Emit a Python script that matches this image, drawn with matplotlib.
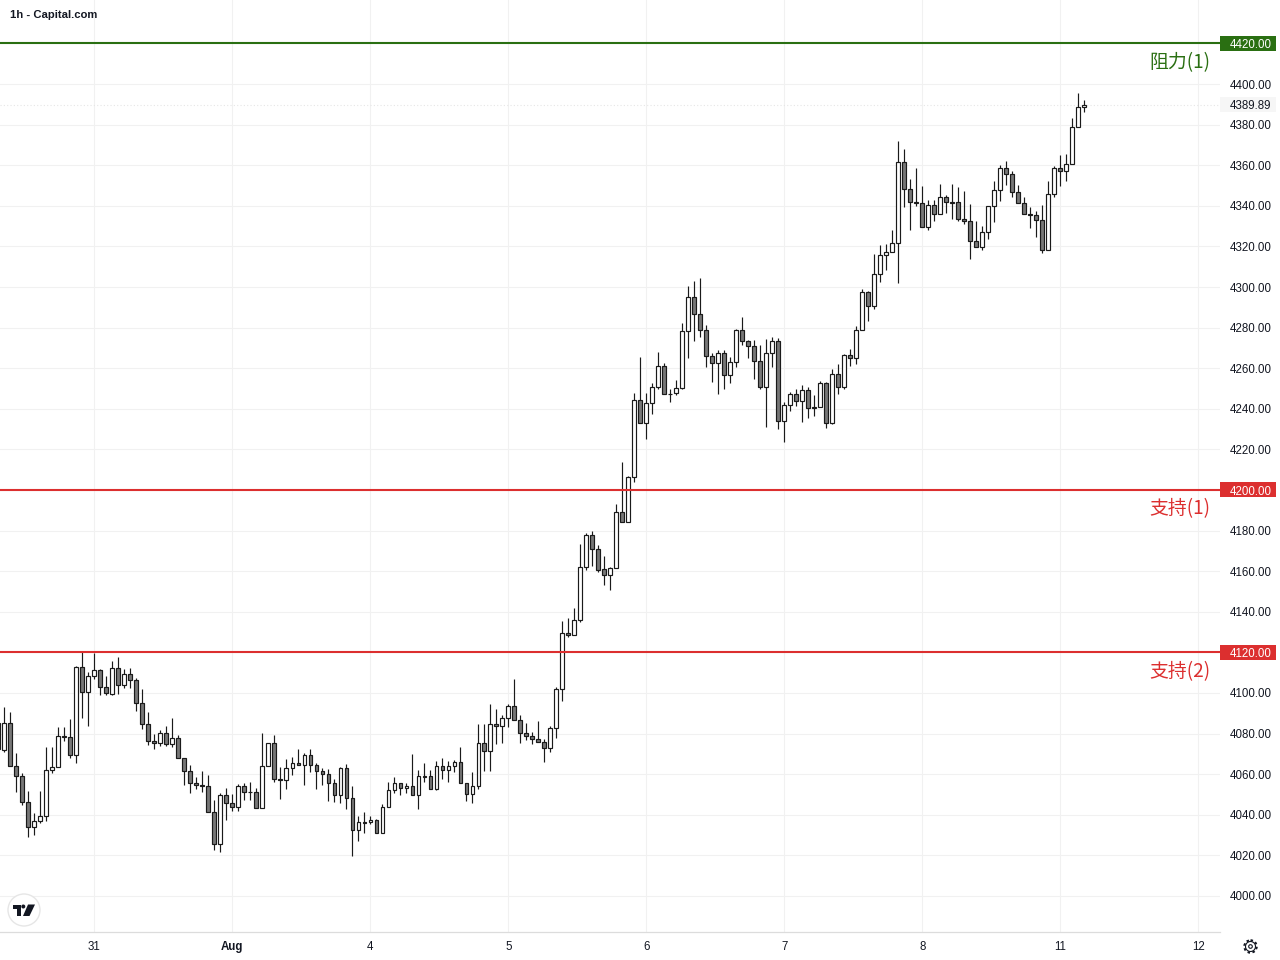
# -*- coding: utf-8 -*-
"""
1h candles with support and resistance levels
"""

import numpy as np
import matplotlib
matplotlib.use('Agg')
import matplotlib.pyplot as plt
from matplotlib.patches import Circle, Polygon, Rectangle
from matplotlib.transforms import blended_transform_factory

FIRST_BAR = -16

opens = [
    4085.0, 4072.1, 4085.0, 4063.9, 4058.9, 4046.1, 4033.8, 4036.8, 4039.2, 4061.9, 4063.4, 4078.6, 4078.2, 4069.3, 4112.6, 4100.3,
    4108.2, 4111.2, 4102.8, 4099.7, 4112.1, 4103.8, 4109.2, 4106.2, 4094.9, 4084.6, 4076.2, 4075.2, 4080.1, 4074.7, 4077.7, 4067.8,
    4061.5, 4055.5, 4054.6, 4054.1, 4041.3, 4025.5, 4049.6, 4045.7, 4043.7, 4054.1, 4051.1, 4051.1, 4043.2, 4063.9, 4075.3, 4057.5,
    4057.0, 4062.9, 4065.4, 4064.4, 4069.3, 4064.4, 4061.5, 4060.0, 4055.5, 4049.6, 4062.9, 4048.2, 4032.4, 4036.3, 4036.3,
    4037.3, 4030.9, 4043.7, 4052.1, 4055.5, 4053.1, 4054.0, 4049.6, 4059.0, 4059.0, 4052.6, 4063.9, 4061.9, 4063.9, 4065.9, 4055.5,
    4050.1, 4054.0, 4075.2, 4071.3, 4084.6, 4083.6, 4087.5, 4093.4, 4086.5, 4080.1, 4078.7, 4077.2, 4075.7, 4072.8, 4082.6, 4101.8, 4129.4,
    4128.4, 4135.8, 4161.9, 4177.7, 4170.8, 4160.9, 4158.0, 4161.4, 4189.0, 4184.1, 4206.2, 4244.2, 4232.8, 4242.7, 4250.6,
    4260.9, 4247.5, 4247.6, 4250.1, 4278.2, 4294.9, 4286.6, 4278.7, 4265.9, 4262.4, 4267.4, 4256.5, 4262.9, 4278.7, 4273.3, 4270.8,
    4263.4, 4250.6, 4267.4, 4273.3, 4233.9, 4241.7, 4247.2, 4243.7, 4249.1, 4240.7, 4240.7, 4252.6, 4232.9,
    4256.9, 4250.5, 4266.3, 4264.8, 4278.6, 4297.3, 4290.4, 4306.2, 4316.0, 4317.0, 4321.5, 4361.4, 4348.1, 4341.7, 4341.2, 4329.4,
    4340.2, 4335.8, 4344.1,
    4341.7, 4341.7, 4333.3, 4332.3, 4322.5, 4319.5, 4326.9, 4339.7, 4347.6, 4358.5, 4355.5, 4346.6, 4341.2, 4335.8, 4335.3, 4332.8,
    4318.1, 4345.6, 4358.5, 4357.0, 4360.4, 4378.6, 4388.5,
]
highs = [
    4091.0, 4093.3, 4090.6, 4070.4, 4060.4, 4051.7, 4040.9, 4051.7, 4073.4, 4073.4, 4083.1, 4083.1, 4087.0, 4113.3, 4120.7, 4110.2,
    4119.9, 4111.8, 4108.4, 4115.8, 4117.7, 4111.8, 4112.3, 4107.4, 4101.8, 4090.5, 4079.8, 4081.8, 4083.7, 4087.7, 4079.3, 4067.8,
    4064.6, 4058.5, 4061.6, 4059.5, 4047.2, 4050.6, 4053.1, 4050.1, 4055.1, 4055.5, 4056.0, 4053.1, 4080.3, 4075.3, 4079.4, 4063.4,
    4067.4, 4068.5, 4072.3, 4070.3, 4072.3, 4065.4, 4062.9, 4062.4, 4057.5, 4063.4, 4064.9, 4054.1, 4039.3, 4041.3, 4039.3,
    4037.8, 4045.2, 4056.0, 4058.5, 4055.5, 4055.5, 4069.8, 4062.1, 4065.4, 4062.1, 4066.4, 4067.8, 4066.4, 4066.8, 4073.4, 4055.5,
    4060.9, 4084.6, 4084.6, 4094.4, 4092.0, 4089.0, 4094.4, 4106.7, 4089.0, 4085.1, 4080.6, 4086.1, 4077.2, 4083.6, 4102.8, 4135.5, 4136.8,
    4141.9, 4173.4, 4178.8, 4179.8, 4172.9, 4167.5, 4161.9, 4193.1, 4213.8, 4206.9, 4247.8, 4265.5, 4247.8, 4252.7, 4267.8,
    4262.4, 4249.6, 4254.0, 4282.1, 4300.5, 4303.0, 4304.3, 4281.1, 4267.4, 4268.8, 4268.8, 4265.4, 4279.2, 4285.1, 4273.8, 4273.8,
    4271.3, 4274.2, 4275.2, 4274.7, 4243.2, 4248.1, 4249.6, 4251.6, 4250.6, 4246.7, 4253.6, 4253.1, 4259.5,
    4262.0, 4266.8, 4269.3, 4280.6, 4298.8, 4297.8, 4316.5, 4320.5, 4321.0, 4327.9, 4371.9, 4367.8, 4353.0, 4358.6, 4349.7, 4343.1,
    4343.1, 4350.5, 4345.1,
    4350.6, 4349.1, 4347.1, 4340.7, 4332.5, 4329.9, 4339.7, 4352.0, 4359.9, 4361.9, 4357.0, 4350.1, 4344.2, 4339.2, 4337.3, 4340.2,
    4352.0, 4359.4, 4364.9, 4365.3, 4383.1, 4395.4, 4392.0,
]
lows = [
    4068.0, 4071.1, 4063.9, 4051.4, 4045.0, 4029.2, 4030.2, 4036.1, 4037.1, 4060.7, 4063.4, 4076.5, 4068.1, 4065.7, 4087.8, 4083.9,
    4107.0, 4099.2, 4099.2, 4099.2, 4099.7, 4102.6, 4102.6, 4091.3, 4082.4, 4074.5, 4072.6, 4074.0, 4074.0, 4073.6, 4067.8, 4054.8,
    4050.9, 4052.9, 4051.4, 4041.3, 4022.9, 4021.9, 4037.3, 4042.1, 4042.1, 4047.5, 4047.5, 4043.2, 4043.2, 4063.9, 4056.4, 4048.0,
    4052.9, 4059.8, 4064.4, 4054.9, 4061.3, 4052.9, 4054.7, 4047.0, 4046.5, 4046.0, 4043.1, 4019.9, 4027.3, 4031.2, 4035.4,
    4030.9, 4030.9, 4043.7, 4050.9, 4049.9, 4050.9, 4049.6, 4043.0, 4056.3, 4052.6, 4052.1, 4057.8, 4056.3, 4061.3, 4055.5, 4047.0,
    4046.0, 4052.9, 4061.8, 4061.8, 4075.1, 4075.6, 4083.4, 4086.5, 4075.6, 4077.0, 4075.1, 4075.7, 4066.2, 4071.1, 4078.0, 4096.2, 4127.8,
    4128.4, 4135.2, 4160.8, 4162.6, 4159.8, 4153.2, 4150.8, 4161.4, 4184.1, 4184.1, 4204.1, 4232.8, 4225.3, 4237.3, 4249.9,
    4247.2, 4243.5, 4246.7, 4249.6, 4265.2, 4273.6, 4275.6, 4260.8, 4253.4, 4247.5, 4249.9, 4252.9, 4260.8, 4271.6, 4265.2, 4254.9,
    4249.6, 4231.2, 4260.8, 4229.9, 4223.8, 4239.1, 4241.2, 4233.7, 4235.3, 4236.6, 4240.7, 4230.4, 4232.4,
    4247.4, 4249.9, 4261.2, 4262.2, 4278.6, 4283.4, 4289.3, 4302.6, 4308.5, 4317.0, 4302.1, 4339.5, 4328.2, 4340.0, 4329.4, 4328.2,
    4332.6, 4335.8, 4336.6,
    4333.7, 4332.7, 4331.2, 4314.0, 4319.5, 4318.4, 4323.8, 4332.2, 4342.5, 4350.4, 4344.5, 4341.2, 4335.8, 4329.2, 4324.8, 4316.9,
    4318.1, 4344.2, 4349.9, 4352.4, 4360.4, 4378.6, 4386.4,
]
closes = [
    4072.2, 4085.0, 4063.9, 4058.9, 4046.1, 4033.8, 4036.8, 4039.2, 4061.9, 4063.4, 4078.6, 4078.2, 4069.3, 4112.6, 4100.3, 4108.2,
    4111.2, 4102.8, 4099.8, 4112.1, 4103.8, 4109.2, 4106.2, 4094.9, 4084.6, 4076.2, 4075.2, 4080.1, 4074.7, 4077.7, 4067.8, 4061.4,
    4055.5, 4054.6, 4054.1, 4041.3, 4025.5, 4049.6, 4045.7, 4043.7, 4054.1, 4051.1, 4051.0, 4043.2, 4063.9, 4075.3, 4057.5, 4057.0,
    4062.9, 4065.4, 4064.4, 4069.3, 4064.4, 4061.5, 4060.0, 4055.5, 4049.6, 4062.9, 4048.2, 4032.4, 4036.3, 4036.2, 4037.3,
    4030.9, 4043.7, 4052.1, 4055.5, 4053.1, 4054.0, 4049.6, 4059.0, 4058.8, 4052.6, 4063.9, 4061.9, 4063.9, 4065.9, 4055.5, 4050.1,
    4054.0, 4075.2, 4071.3, 4084.6, 4083.6, 4087.5, 4093.4, 4086.5, 4080.1, 4078.7, 4077.2, 4075.7, 4072.8, 4082.6, 4101.8, 4129.4, 4128.4,
    4135.8, 4161.9, 4177.7, 4170.8, 4160.8, 4158.0, 4161.4, 4189.0, 4184.1, 4206.2, 4244.2, 4232.8, 4242.7, 4250.6, 4260.9,
    4247.2, 4247.2, 4250.1, 4278.2, 4294.9, 4286.6, 4278.7, 4265.9, 4262.4, 4267.4, 4256.5, 4262.9, 4278.7, 4273.3, 4270.8, 4263.4,
    4250.6, 4267.4, 4273.3, 4233.9, 4241.7, 4247.2, 4243.7, 4249.1, 4240.3, 4240.3, 4252.6, 4232.9, 4257.0,
    4250.5, 4266.3, 4264.8, 4278.6, 4297.3, 4290.4, 4306.2, 4316.0, 4317.0, 4321.5, 4361.4, 4348.1, 4341.7, 4341.2, 4329.4, 4340.2,
    4335.8, 4344.1, 4341.7,
    4341.5, 4333.3, 4332.3, 4322.5, 4319.5, 4326.9, 4339.7, 4347.6, 4358.5, 4355.5, 4346.6, 4341.2, 4335.8, 4335.3, 4332.8, 4318.1,
    4345.6, 4358.5, 4357.0, 4360.4, 4378.6, 4388.5, 4389.89,
]

# session starts, 23 bars apart
day_ticks = [0, 23, 46, 69, 92, 115, 138, 161, 184]
day_labels = ['31', 'Aug', '4', '5', '6', '7', '8', '11', '12']
price_ticks = list(range(4000, 4420, 20))

levels = [4420, 4200, 4120]
level_names = ['阻力(1)', '支持(1)', '支持(2)']
level_colors = ['#2a6f12', '#dc2f2f', '#dc2f2f']
last_price = closes[-1]

TEXT = '#131722'
GRID = '#f1f1f1'
EDGE = '#1a1a1a'
plt.rcParams['font.family'] = ['Liberation Sans', 'DejaVu Sans']

fig = plt.figure(figsize=(12.8, 9.6), dpi=100, facecolor='white')
ax = fig.add_axes([0, 1 - 932 / 960, 1220 / 1280, 932 / 960])

opens, highs, lows, closes = map(np.array, (opens, highs, lows, closes))
bars = np.arange(len(closes)) + FIRST_BAR
up = closes >= opens
bottoms = np.minimum(opens, closes)
tops = np.maximum(opens, closes)

ax.vlines(bars, lows, highs, color=EDGE, lw=0.85, zorder=3)
ax.bar(bars, tops - bottoms, bottom=bottoms, width=0.6, linewidth=0.85,
       color=np.where(up, '#ffffff', '#777777'), edgecolor=EDGE, zorder=4)

ax.set_xlim((0 - 94.3) / 6, (1220 - 94.3) / 6)
ax.set_ylim(4400 - 848 / 2.03, 4400 + 84 / 2.03)

ax.set_xticks(day_ticks, day_labels)
ax.set_yticks(price_ticks, [f'{p:.2f}' for p in price_ticks])
ax.yaxis.tick_right()
ax.tick_params(axis='x', length=0, pad=6.5, labelsize=8.3, labelcolor=TEXT)
ax.tick_params(axis='y', length=0, pad=7.2, labelsize=8.3, labelcolor=TEXT)
ax.get_xticklabels()[1].set_fontweight('bold')
ax.grid(True, color=GRID, lw=0.8, zorder=0)
ax.set_axisbelow(True)
for side in ('top', 'left', 'right'):
    ax.spines[side].set_visible(False)
ax.spines['bottom'].set_color('#dcdcdc')
ax.spines['bottom'].set_linewidth(0.9)

# last price: faint dotted line and pale tag
tag = blended_transform_factory(ax.transAxes, ax.transData)
tag_w = 56 / 1220
tag_h = 15 / 2.03
ax.axhline(last_price, color='#e6e6e6', lw=0.8, ls=(0, (1, 2)), zorder=1)
ax.add_patch(Rectangle((1.0, last_price - tag_h / 2), tag_w, tag_h, transform=tag,
                       facecolor='#f6f6f6', edgecolor='none', clip_on=False, zorder=5))
ax.text(1 + 30.5 / 1220, last_price, f'{last_price:.2f}', transform=tag, fontsize=8.3,
        color=TEXT, ha='center', va='center_baseline', zorder=6)

for level, name, color in zip(levels, level_names, level_colors):
    ax.axhline(level, color=color, lw=1.5, zorder=5)
    ax.add_patch(Rectangle((1.0, level - tag_h / 2), tag_w, tag_h, transform=tag,
                           facecolor=color, edgecolor='none', clip_on=False, zorder=5))
    ax.text(1 + 30.5 / 1220, level, f'{level:.2f}', transform=tag, fontsize=8.3,
            color='white', ha='center', va='center_baseline', zorder=6)
    ax.annotate(name, xy=(1, level), xycoords=tag, xytext=(-7.2, -6), textcoords='offset points',
                ha='right', va='top', color=color, fontsize=13.6,
                family=['Noto Sans CJK SC', 'DejaVu Sans'], zorder=6)

# page furniture, in figure pixels
page = fig.add_axes([0, 0, 1, 1], facecolor='none')
page.set_xlim(0, 1280)
page.set_ylim(960, 0)
page.axis('off')

page.text(10, 15.5, '1h - Capital.com', fontsize=8.1, fontweight='bold', color=TEXT,
          ha='left', va='center')

page.add_patch(Circle((24, 910), 16, facecolor='white', edgecolor='#e6e6e6', lw=1))
page.add_patch(Polygon([(12.7, 904.5), (20.7, 904.5), (20.7, 916), (16.7, 916),
                        (16.7, 908.5), (12.7, 908.5)], facecolor=TEXT, edgecolor='none'))
page.add_patch(Circle((23.3, 906.5), 2, facecolor=TEXT, edgecolor='none'))
page.add_patch(Polygon([(28, 904.5), (35, 904.5), (29.5, 916), (23, 916)],
                       facecolor=TEXT, edgecolor='none'))

# settings gear
page.add_patch(Circle((1250.5, 946.5), 6.2, facecolor='none', edgecolor=TEXT, lw=1.5,
                      ls=(0, (1.2, 1.2))))
page.add_patch(Circle((1250.5, 946.5), 5.0, facecolor='white', edgecolor=TEXT, lw=0.8))
page.add_patch(Circle((1250.5, 946.5), 1.8, facecolor='white', edgecolor=TEXT, lw=0.8))

fig.savefig('out.png', dpi=100)
